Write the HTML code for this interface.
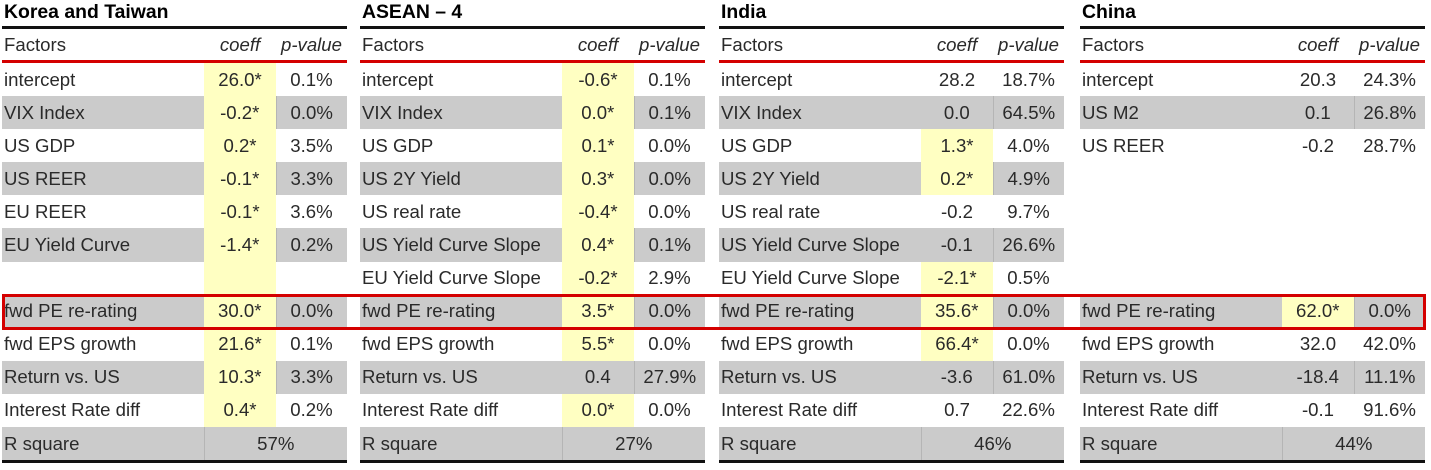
<!DOCTYPE html>
<html><head><meta charset="utf-8"><style>
body{margin:0;width:1431px;height:470px;background:#fff;position:relative;overflow:hidden;font-family:"Liberation Sans",Arial,sans-serif;color:#2a2a2a}
.p{position:absolute;top:0;width:345px}
.t{height:26px;border-bottom:3px solid #111;font-weight:bold;font-size:19.4px;line-height:24px;padding-left:2px;color:#000}
table{border-collapse:collapse;width:345px;table-layout:fixed;font-size:18.6px}
td{height:33.1px;padding:0;white-space:nowrap}
td:first-child{padding-left:2px}
td.c,td.v{text-align:center}
tr.h td{height:31px;border-bottom:3px solid #d40000}
tr.h td.c,tr.h td.v{font-style:italic}
tr.g td{background:#cbcbcb}
tr.g td.v{border-left:1px solid #b5b5b5}
td.y,tr.g td.y{background:#ffffc2}
tr.last td{border-bottom:3px solid #111}
.box{position:absolute;left:2px;top:294px;width:1418px;height:30px;border:3px solid #d40000}
</style></head><body>

<div class="p" style="left:2px">
<div class="t">Korea and Taiwan</div>
<table><col style="width:202px"><col style="width:72px"><col style="width:71px">
<tr class="h"><td>Factors</td><td class="c">coeff</td><td class="v">p-value</td></tr>
<tr><td>intercept</td><td class="c y">26.0*</td><td class="v">0.1%</td></tr>
<tr class="g"><td>VIX Index</td><td class="c y">-0.2*</td><td class="v">0.0%</td></tr>
<tr><td>US GDP</td><td class="c y">0.2*</td><td class="v">3.5%</td></tr>
<tr class="g"><td>US REER</td><td class="c y">-0.1*</td><td class="v">3.3%</td></tr>
<tr><td>EU REER</td><td class="c y">-0.1*</td><td class="v">3.6%</td></tr>
<tr class="g"><td>EU Yield Curve</td><td class="c y">-1.4*</td><td class="v">0.2%</td></tr>
<tr><td></td><td class="c y"></td><td class="v"></td></tr>
<tr class="g"><td>fwd PE re-rating</td><td class="c y">30.0*</td><td class="v">0.0%</td></tr>
<tr><td>fwd EPS growth</td><td class="c y">21.6*</td><td class="v">0.1%</td></tr>
<tr class="g"><td>Return vs. US</td><td class="c y">10.3*</td><td class="v">3.3%</td></tr>
<tr><td>Interest Rate diff</td><td class="c y">0.4*</td><td class="v">0.2%</td></tr>
<tr class="g last"><td>R square</td><td colspan="2" class="c" style="border-left:1px solid #b5b5b5">57%</td></tr>
</table></div>

<div class="p" style="left:360px">
<div class="t">ASEAN – 4</div>
<table><col style="width:202px"><col style="width:72px"><col style="width:71px">
<tr class="h"><td>Factors</td><td class="c">coeff</td><td class="v">p-value</td></tr>
<tr><td>intercept</td><td class="c y">-0.6*</td><td class="v">0.1%</td></tr>
<tr class="g"><td>VIX Index</td><td class="c y">0.0*</td><td class="v">0.1%</td></tr>
<tr><td>US GDP</td><td class="c y">0.1*</td><td class="v">0.0%</td></tr>
<tr class="g"><td>US 2Y Yield</td><td class="c y">0.3*</td><td class="v">0.0%</td></tr>
<tr><td>US real rate</td><td class="c y">-0.4*</td><td class="v">0.0%</td></tr>
<tr class="g"><td>US Yield Curve Slope</td><td class="c y">0.4*</td><td class="v">0.1%</td></tr>
<tr><td>EU Yield Curve Slope</td><td class="c y">-0.2*</td><td class="v">2.9%</td></tr>
<tr class="g"><td>fwd PE re-rating</td><td class="c y">3.5*</td><td class="v">0.0%</td></tr>
<tr><td>fwd EPS growth</td><td class="c y">5.5*</td><td class="v">0.0%</td></tr>
<tr class="g"><td>Return vs. US</td><td class="c">0.4</td><td class="v">27.9%</td></tr>
<tr><td>Interest Rate diff</td><td class="c y">0.0*</td><td class="v">0.0%</td></tr>
<tr class="g last"><td>R square</td><td colspan="2" class="c" style="border-left:1px solid #b5b5b5">27%</td></tr>
</table></div>

<div class="p" style="left:719px">
<div class="t">India</div>
<table><col style="width:202px"><col style="width:72px"><col style="width:71px">
<tr class="h"><td>Factors</td><td class="c">coeff</td><td class="v">p-value</td></tr>
<tr><td>intercept</td><td class="c">28.2</td><td class="v">18.7%</td></tr>
<tr class="g"><td>VIX Index</td><td class="c">0.0</td><td class="v">64.5%</td></tr>
<tr><td>US GDP</td><td class="c y">1.3*</td><td class="v">4.0%</td></tr>
<tr class="g"><td>US 2Y Yield</td><td class="c y">0.2*</td><td class="v">4.9%</td></tr>
<tr><td>US real rate</td><td class="c">-0.2</td><td class="v">9.7%</td></tr>
<tr class="g"><td>US Yield Curve Slope</td><td class="c">-0.1</td><td class="v">26.6%</td></tr>
<tr><td>EU Yield Curve Slope</td><td class="c y">-2.1*</td><td class="v">0.5%</td></tr>
<tr class="g"><td>fwd PE re-rating</td><td class="c y">35.6*</td><td class="v">0.0%</td></tr>
<tr><td>fwd EPS growth</td><td class="c y">66.4*</td><td class="v">0.0%</td></tr>
<tr class="g"><td>Return vs. US</td><td class="c">-3.6</td><td class="v">61.0%</td></tr>
<tr><td>Interest Rate diff</td><td class="c">0.7</td><td class="v">22.6%</td></tr>
<tr class="g last"><td>R square</td><td colspan="2" class="c" style="border-left:1px solid #b5b5b5">46%</td></tr>
</table></div>

<div class="p" style="left:1080px">
<div class="t">China</div>
<table><col style="width:202px"><col style="width:72px"><col style="width:71px">
<tr class="h"><td>Factors</td><td class="c">coeff</td><td class="v">p-value</td></tr>
<tr><td>intercept</td><td class="c">20.3</td><td class="v">24.3%</td></tr>
<tr class="g"><td>US M2</td><td class="c">0.1</td><td class="v">26.8%</td></tr>
<tr><td>US REER</td><td class="c">-0.2</td><td class="v">28.7%</td></tr>
<tr><td></td><td></td><td></td></tr>
<tr><td></td><td></td><td></td></tr>
<tr><td></td><td></td><td></td></tr>
<tr><td></td><td></td><td></td></tr>
<tr class="g"><td>fwd PE re-rating</td><td class="c y">62.0*</td><td class="v">0.0%</td></tr>
<tr><td>fwd EPS growth</td><td class="c">32.0</td><td class="v">42.0%</td></tr>
<tr class="g"><td>Return vs. US</td><td class="c">-18.4</td><td class="v">11.1%</td></tr>
<tr><td>Interest Rate diff</td><td class="c">-0.1</td><td class="v">91.6%</td></tr>
<tr class="g last"><td>R square</td><td colspan="2" class="c" style="border-left:1px solid #b5b5b5">44%</td></tr>
</table></div>

<div class="box"></div>
</body></html>
